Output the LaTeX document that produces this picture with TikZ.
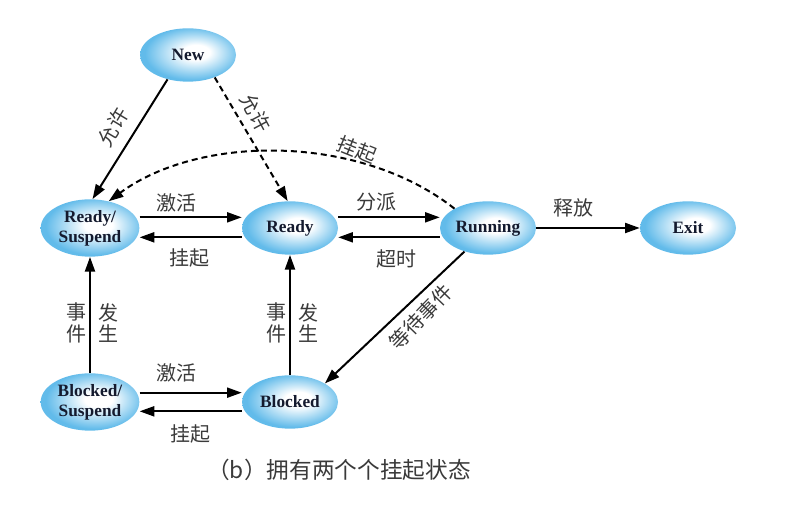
\documentclass[tikz,border=0pt]{standalone}
\usepackage{fontspec}
\setmainfont{Liberation Serif}
\newfontfamily\cjk{Noto Sans CJK SC}
\usetikzlibrary{arrows.meta,positioning,shapes.geometric}
\definecolor{BubOut}{HTML}{62BBEA}
\definecolor{BubTxt}{HTML}{141A2E}
\definecolor{LblTxt}{HTML}{3A3A3A}
\pgfdeclareradialshading{bubble}{\pgfpoint{5bp}{3bp}}{color(0bp)=(white); color(7bp)=(white); color(25bp)=(BubOut); color(50bp)=(BubOut)}
\tikzset{
  proc/.style={ellipse, shade, shading=bubble, inner sep=0pt, align=center,
               minimum width=72pt, minimum height=40pt, text=BubTxt,
               font=\fontsize{13}{15}\selectfont\bfseries},
  proc2/.style={proc, minimum width=74pt, minimum height=43pt},
  arr/.style={-{Triangle[length=11pt,width=7.5pt]}, line width=1.5pt},
  dsh/.style={dashed, dash pattern=on 4.5pt off 3pt},
  lbl/.style={font=\cjk\fontsize{15}{16}\selectfont, text=LblTxt, inner sep=1pt},
  vlbl/.style={lbl, align=center},
}

\begin{document}
\begin{tikzpicture}[x=0.75pt,y=-0.75pt,
  captxt/.style={font=\cjk\fontsize{17}{20}\selectfont, text=LblTxt},
]
\useasboundingbox (0,0) rectangle (793,505);

% ======================= states =====================================================
\node[proc] (new) at (188,55) {New};
\node[proc2] (rs) at (90,228) {Ready/\\Suspend};
\node[proc] (rdy) at (290,228) {Ready};
\node[proc] (run) at (488,228) {Running};
\node[proc] (ext) at (688,228) {Exit};
\node[proc2] (bs) at (90,402) {Blocked/\\Suspend};
\node[proc] (blk) at (290,402) {Blocked};

% ======================= admission ==================================================
\draw[arr] (new.230) -- (rs.85);
\draw[arr, dsh] (new.320) -- (rdy.95);
\node[lbl, rotate=59] (l1) at (113,127) {允许};
\node[lbl, rotate=-62] (l2) at (256,113) {允许};

% ======================= suspend from running (dashed arc) ===========================
\draw[arr, dsh] (run.150) .. controls (360,134) and (200,134) .. (rs.55);
\node[lbl, rotate=-22] (l3) at (357,150) {挂起};

% ======================= top row ====================================================
\draw[arr] ([yshift=8pt]rs.east) -- ([yshift=8pt]rdy.west);
\draw[arr] ([yshift=-7pt]rdy.west) -- ([yshift=-7pt]rs.east);
\draw[arr] ([yshift=8pt]rdy.east) -- ([yshift=8pt]run.west);
\draw[arr] ([yshift=-7pt]run.west) -- ([yshift=-7pt]rdy.east);
\draw[arr] (run) -- (ext);
\node[lbl] (l4) at (176,203) {激活};
\node[lbl] (l5) at (189,258) {挂起};
\node[lbl] (l6) at (376,202) {分派};
\node[lbl] (l7) at (396,259) {超时};
\node[lbl] (l8) at (573,208) {释放};

% ======================= events and waiting =========================================
\draw[arr] (bs) -- (rs);
\draw[arr] (blk) -- (rdy);
\node[vlbl] (l9) at (76,323) {事\\件};
\node[vlbl] (l10) at (108,323) {发\\生};
\node[vlbl] (l11) at (276,323) {事\\件};
\node[vlbl] (l12) at (308,323) {发\\生};
\draw[arr] (run.225) -- (blk.28);
\node[lbl, rotate=46] (l13) at (421,317) {等待事件};

% ======================= bottom row =================================================
\draw[arr] ([yshift=7pt]bs.east) -- ([yshift=7pt]blk.west);
\draw[arr] ([yshift=-7pt]blk.west) -- ([yshift=-7pt]bs.east);
\node[lbl] (l14) at (176,373) {激活};
\node[lbl] (l15) at (190,434) {挂起};

\node[captxt] (capt) at (339,470) {（b）拥有两个个挂起状态};

\end{tikzpicture}
\end{document}
